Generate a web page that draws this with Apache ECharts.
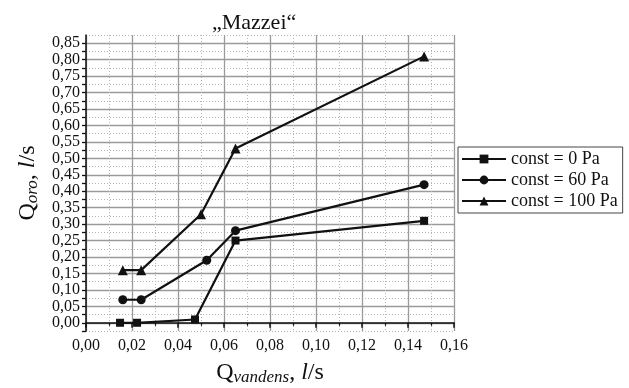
<!DOCTYPE html>
<html>
<head>
<meta charset="utf-8">
<script src="https://cdn.jsdelivr.net/npm/echarts@6/dist/echarts.min.js"></script>
<style>
  html, body { margin: 0; padding: 0; background: #fff; }
  #chart { width: 629px; height: 388px; }
</style>
</head>
<body>
<div id="chart"></div>
<script>
// data
const seriesNames = ["const = 0 Pa", "const = 60 Pa", "const = 100 Pa"];
const xZero = [0.0148, 0.0222, 0.0474, 0.065, 0.147];
const yZero = [0.0, 0.0, 0.01, 0.25, 0.31];
const xSixty = [0.016, 0.024, 0.0525, 0.065, 0.147];
const ySixty = [0.07, 0.07, 0.19, 0.28, 0.42];
const xHundred = [0.016, 0.024, 0.05, 0.065, 0.147];
const yHundred = [0.16, 0.16, 0.33, 0.53, 0.81];
const symbols = ["rect", "circle", "triangle"];
const symbolSizes = [8, 9, 10];

const font = "Liberation Serif";
const clear = "rgba(0,0,0,0)";

function pairs(xs, ys) {
  return xs.map((x, i) => [x, ys[i]]);
}
function comma(v, digits) {
  return v.toFixed(digits).replace(".", ",");
}

const seriesData = [pairs(xZero, yZero), pairs(xSixty, ySixty), pairs(xHundred, yHundred)];

const nameStyle = {
  fontFamily: font,
  fontSize: 24,
  color: "#111",
  rich: {
    sub: { fontFamily: font, fontSize: 17, fontStyle: "italic", color: "#111", verticalAlign: "bottom", padding: [9, 0, 0, 0] },
    it: { fontFamily: font, fontSize: 24, fontStyle: "italic", color: "#111" }
  }
};

let option = {
  animation: false,
  backgroundColor: "#fff",
  title: {
    text: "\u201EMazzei\u201C",
    left: 207,
    top: 7,
    textStyle: { fontFamily: font, fontSize: 22, fontWeight: "normal", color: "#111" }
  },
  legend: {
    orient: "vertical",
    left: 458,
    top: 147,
    padding: [3, 5, 3, 3],
    itemGap: 3,
    itemWidth: 44,
    itemHeight: 11,
    borderColor: "#444",
    borderWidth: 1,
    borderRadius: 0,
    textStyle: { fontFamily: font, fontSize: 18, color: "#111" },
    data: seriesNames
  },
  grid: {
    left: 86,
    right: 175,
    top: 35,
    bottom: 57,
    containLabel: false,
    outerBoundsMode: "none"
  },
  xAxis: {
    type: "value",
    min: 0,
    max: 0.16,
    interval: 0.02,
    name: "Q{sub|vandens}, {it|l}/s",
    nameLocation: "middle",
    nameGap: 29,
    nameTextStyle: nameStyle,
    axisLine: { lineStyle: { color: "#111", width: 1.5 } },
    axisTick: { length: 5, lineStyle: { color: "#111", width: 1.5 } },
    minorTick: { show: true, splitNumber: 2, length: 3, lineStyle: { color: "#111", width: 1.2 } },
    axisLabel: {
      fontFamily: font,
      fontSize: 16,
      color: "#111",
      margin: 7,
      formatter: (v) => comma(v, 2)
    },
    splitLine: { show: true, lineStyle: { color: "#9a9a9a", width: 1.3 } },
    minorSplitLine: { show: true, lineStyle: { color: "#b5b5b5", width: 1, type: [1, 2] } }
  },
  yAxis: [
    {
      type: "value",
      min: -0.025,
      max: 0.875,
      interval: 0.025,
      name: "Q{sub|oro}, {it|l}/s",
      nameLocation: "middle",
      nameGap: 45,
      nameRotate: 90,
      nameTextStyle: nameStyle,
      axisLine: { show: true, lineStyle: { color: "#111", width: 1.5 } },
      axisTick: { show: true, length: 4, lineStyle: { color: "#111", width: 1.3 } },
      axisLabel: {
        fontFamily: font,
        fontSize: 16,
        color: "#111",
        margin: 6,
        showMaxLabel: false,
        formatter: (v) => {
          let k = Math.round(v / 0.025);
          if (k < 0 || k % 2 !== 0) return "";
          return comma(k * 0.025, 2);
        }
      },
      // solid lines at 0,00 0,05 ... (every other tick)
      splitLine: { show: true, lineStyle: { color: [clear, "#9a9a9a"], width: 1.3 } }
    },
    {
      type: "value",
      position: "left",
      min: -0.025,
      max: 0.875,
      interval: 0.025,
      axisLine: { show: false },
      axisTick: { show: false },
      axisLabel: { show: false },
      // dotted lines halfway between
      splitLine: { show: true, lineStyle: { color: ["#b5b5b5", clear], width: 1, type: [1, 2] } }
    }
  ],
  series: seriesNames.map((name, i) => ({
    name: name,
    type: "line",
    yAxisIndex: 0,
    data: seriesData[i],
    symbol: symbols[i],
    symbolSize: symbolSizes[i],
    showAllSymbol: true,
    lineStyle: { color: "#111", width: 2.2 },
    itemStyle: { color: "#111" },
    z: 5
  }))
};

let myChart = echarts.init(document.getElementById("chart"), null, { renderer: "canvas" });
myChart.setOption(option);
</script>
</body>
</html>
